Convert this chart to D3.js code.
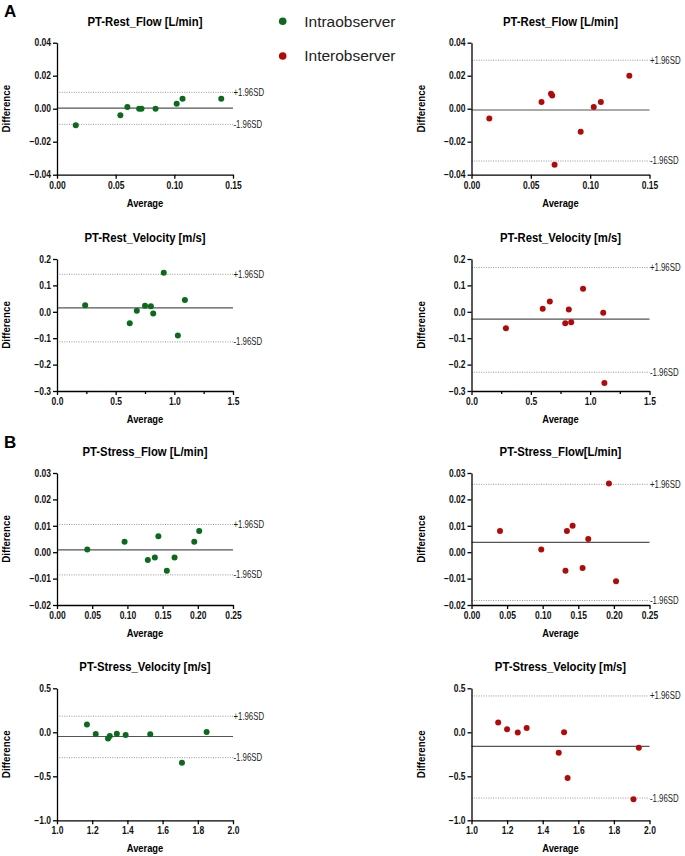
<!DOCTYPE html>
<html>
<head>
<meta charset="utf-8">
<script src="https://cdn.jsdelivr.net/npm/d3@7"></script>
<style>
  body { margin: 0; background: #fff; }
  svg text { font-family: "Liberation Sans", Arial, sans-serif; }
</style>
</head>
<body>
<div id="graf"></div>
<script>
// I. Datos
titulos = ['PT-Rest_Flow [L/min]', 'PT-Rest_Flow [L/min]',
           'PT-Rest_Velocity [m/s]', 'PT-Rest_Velocity [m/s]',
           'PT-Stress_Flow [L/min]', 'PT-Stress_Flow[L/min]',
           'PT-Stress_Velocity [m/s]', 'PT-Stress_Velocity [m/s]']

series = ['Intraobserver', 'Interobserver']
colores = ['#0b6a1b', '#b20a0a']

// limites = [media, +1.96SD, -1.96SD]
restFlowIntraAvg  = [0.016, 0.054, 0.060, 0.070, 0.072, 0.084, 0.102, 0.107, 0.140]
restFlowIntraDiff = [-0.010, -0.004, 0.001, 0.000, 0.000, 0.000, 0.003, 0.006, 0.006]
restFlowIntraLim  = [0.0003, 0.0099, -0.0095]

restFlowInterAvg  = [0.015, 0.059, 0.067, 0.068, 0.070, 0.092, 0.103, 0.109, 0.133]
restFlowInterDiff = [-0.006, 0.004, 0.009, 0.008, -0.034, -0.014, 0.001, 0.004, 0.020]
restFlowInterLim  = [-0.0008, 0.0294, -0.0317]

restVelIntraAvg  = [0.24, 0.62, 0.68, 0.75, 0.80, 0.82, 0.91, 1.03, 1.09]
restVelIntraDiff = [0.025, -0.043, 0.004, 0.023, 0.021, -0.006, 0.148, -0.090, 0.045]
restVelIntraLim  = [0.015, 0.142, -0.114]

restVelInterAvg  = [0.29, 0.60, 0.66, 0.79, 0.82, 0.84, 0.94, 1.11, 1.12]
restVelInterDiff = [-0.062, 0.012, 0.039, -0.043, 0.009, -0.040, 0.087, -0.004, -0.270]
restVelInterLim  = [-0.028, 0.168, -0.229]

stressFlowIntraAvg  = [0.043, 0.096, 0.129, 0.139, 0.144, 0.156, 0.167, 0.195, 0.202]
stressFlowIntraDiff = [0.001, 0.004, -0.003, -0.002, 0.006, -0.007, -0.002, 0.004, 0.008]
stressFlowIntraLim  = [0.0009, 0.0105, -0.0086]

stressFlowInterAvg  = [0.040, 0.098, 0.132, 0.134, 0.142, 0.156, 0.164, 0.193, 0.203]
stressFlowInterDiff = [0.008, 0.001, -0.007, 0.008, 0.010, -0.006, 0.005, 0.026, -0.011]
stressFlowInterLim  = [0.0037, 0.0257, -0.0183]

stressVelIntraAvg  = [1.17, 1.22, 1.29, 1.30, 1.34, 1.39, 1.53, 1.71, 1.85]
stressVelIntraDiff = [0.088, -0.020, -0.071, -0.043, -0.016, -0.030, -0.023, -0.345, 0.004]
stressVelIntraLim  = [-0.048, 0.183, -0.288]

stressVelInterAvg  = [1.15, 1.20, 1.26, 1.31, 1.49, 1.52, 1.54, 1.91, 1.94]
stressVelInterDiff = [0.111, 0.035, -0.003, 0.050, -0.233, 0.001, -0.520, -0.762, -0.176]
stressVelInterLim  = [-0.161, 0.413, -0.747]

// ejes
flowRestXTicks = [0, 0.05, 0.10, 0.15]
flowRestYTicks = [-0.04, -0.02, 0, 0.02, 0.04]
velRestXTicks  = [0, 0.5, 1.0, 1.5]
velRestXMinor  = [0.25, 0.75, 1.25]
velRestYTicks  = [-0.3, -0.2, -0.1, 0, 0.1, 0.2]
flowStressXTicks = [0, 0.05, 0.10, 0.15, 0.20, 0.25]
flowStressYTicks = [-0.02, -0.01, 0, 0.01, 0.02, 0.03]
velStressXTicks  = [1.0, 1.2, 1.4, 1.6, 1.8, 2.0]
velStressYTicks  = [-1.0, -0.5, 0, 0.5]

// II. Variables globales
graf = d3.select('#graf')

ancho_total = 685
alto_total = 856

svg = graf.append('svg')
          .attr('width', ancho_total)
          .attr('height', alto_total)

col_x = [57, 471.5]
col_ancho = [176, 178]
fila_y = [42.7, 259, 473, 688.3]
alto = 132

// no hay Arial Narrow: se estrecha el texto a mano
function angosto(sel, k) {
  sel.each(function() {
    t = d3.select(this)
    x = +t.attr('x') || 0
    t.attr('x', x / k).attr('transform', `scale(${k},1)`)
  })
}

function pares(a, b) { return a.map((v, i) => ({ avg: v, diff: b[i] })) }

function panel(fila, col, datos, lim, xT, yT, xF, yF, xMinor) {
  ancho = col_ancho[col]
  g = svg.append('g')
         .attr('transform', `translate(${col_x[col]},${fila_y[fila]})`)

  xScale = d3.scaleLinear().domain(d3.extent(xT)).range([0, ancho])
  yScale = d3.scaleLinear().domain(d3.extent(yT)).range([alto, 0])

  // titulo
  g.append('text')
   .attr('x', ancho / 2)
   .attr('y', -17)
   .attr('text-anchor', 'middle')
   .style('font-size', '13px')
   .style('font-weight', 'bold')
   .text(titulos[fila * 2 + col])
   .call(angosto, 0.87)

  // lineas media y limites
  g.append('line')
   .attr('x1', 0).attr('x2', ancho)
   .attr('y1', yScale(lim[0])).attr('y2', yScale(lim[0]))
   .attr('stroke', '#555').attr('stroke-width', 1.2)

  ;[1, 2].forEach(k => {
    g.append('line')
     .attr('x1', 0).attr('x2', ancho)
     .attr('y1', yScale(lim[k])).attr('y2', yScale(lim[k]))
     .attr('stroke', '#8a8a8a').attr('stroke-width', 0.9)
     .attr('stroke-dasharray', '1,1.4')
    g.append('text')
     .attr('x', ancho + 0.5)
     .attr('y', yScale(lim[k]))
     .attr('dy', '0.35em')
     .style('font-size', '10px')
     .attr('fill', '#222')
     .text(k == 1 ? '+1.96SD' : '-1.96SD')
     .call(angosto, 0.78)
  })

  // EJE X
  xAxis = d3.axisBottom(xScale)
            .tickValues(xT)
            .tickFormat(d3.format(xF))
            .tickSize(4)
            .tickSizeOuter(0)
            .tickPadding(3)
  g.append('g')
   .attr('class', 'axis')
   .attr('transform', 'translate(0,' + alto + ')')
   .call(xAxis)

  if (xMinor) {
    g.append('g')
     .attr('class', 'axis minor')
     .attr('transform', 'translate(0,' + alto + ')')
     .call(d3.axisBottom(xScale).tickValues(xMinor).tickFormat('').tickSize(3))
     .select('.domain').remove()
  }

  // EJE Y
  yAxis = d3.axisLeft(yScale)
            .tickValues(yT)
            .tickFormat(d3.format(yF))
            .tickSize(4)
            .tickSizeOuter(0)
            .tickPadding(2)
  g.append('g')
   .attr('class', 'axis')
   .call(yAxis)

  g.selectAll('.axis path, .axis line')
   .attr('stroke', '#000')
   .attr('stroke-width', 1.3)
  g.selectAll('.axis text')
   .attr('fill', '#111')
   .style('font-size', '10px')
   .style('font-weight', 'bold')
   .style('font-family', '"Liberation Sans", Arial, sans-serif')
   .call(angosto, 0.85)

  g.append('text')
   .attr('x', ancho / 2)
   .attr('y', alto + 32)
   .attr('text-anchor', 'middle')
   .style('font-size', '11px')
   .style('font-weight', 'bold')
   .text('Average')
   .call(angosto, 0.85)

  g.append('text')
   .attr('transform', `translate(-47,${alto / 2}) rotate(-90) scale(0.85,1)`)
   .attr('text-anchor', 'middle')
   .style('font-size', '11.5px')
   .style('font-weight', 'bold')
   .text('Difference')

  // PUNTOS
  g.selectAll('circle')
   .data(datos)
   .enter()
   .append('circle')
   .attr('cx', d => xScale(d.avg))
   .attr('cy', d => yScale(d.diff))
   .attr('r', 3)
   .attr('fill', colores[col])
}

panel(0, 0, pares(restFlowIntraAvg, restFlowIntraDiff), restFlowIntraLim, flowRestXTicks, flowRestYTicks, '.2f', '.2f')
panel(0, 1, pares(restFlowInterAvg, restFlowInterDiff), restFlowInterLim, flowRestXTicks, flowRestYTicks, '.2f', '.2f')
panel(1, 0, pares(restVelIntraAvg, restVelIntraDiff), restVelIntraLim, velRestXTicks, velRestYTicks, '.1f', '.1f', velRestXMinor)
panel(1, 1, pares(restVelInterAvg, restVelInterDiff), restVelInterLim, velRestXTicks, velRestYTicks, '.1f', '.1f', velRestXMinor)
panel(2, 0, pares(stressFlowIntraAvg, stressFlowIntraDiff), stressFlowIntraLim, flowStressXTicks, flowStressYTicks, '.2f', '.2f')
panel(2, 1, pares(stressFlowInterAvg, stressFlowInterDiff), stressFlowInterLim, flowStressXTicks, flowStressYTicks, '.2f', '.2f')
panel(3, 0, pares(stressVelIntraAvg, stressVelIntraDiff), stressVelIntraLim, velStressXTicks, velStressYTicks, '.1f', '.1f')
panel(3, 1, pares(stressVelInterAvg, stressVelInterDiff), stressVelInterLim, velStressXTicks, velStressYTicks, '.1f', '.1f')

// LETRAS A / B
svg.append('text').attr('x', 4).attr('y', 17)
   .style('font-size', '17px').style('font-weight', 'bold')
   .text('A')
svg.append('text').attr('x', 4).attr('y', 448)
   .style('font-size', '17px').style('font-weight', 'bold')
   .text('B')

// LEYENDAS
legend = svg.append('g')
            .selectAll('g')
            .data(series)
            .enter().append('g')
            .attr('transform', (d, i) => `translate(282.7,${21.3 + i * 34.7})`)

legend.append('circle')
      .attr('r', 3.8)
      .attr('fill', (d, i) => colores[i])

legend.append('text')
      .attr('x', 21.5)
      .attr('dy', '0.35em')
      .style('font-size', '15.5px')
      .attr('fill', '#222')
      .text(d => d)
</script>
</body>
</html>
